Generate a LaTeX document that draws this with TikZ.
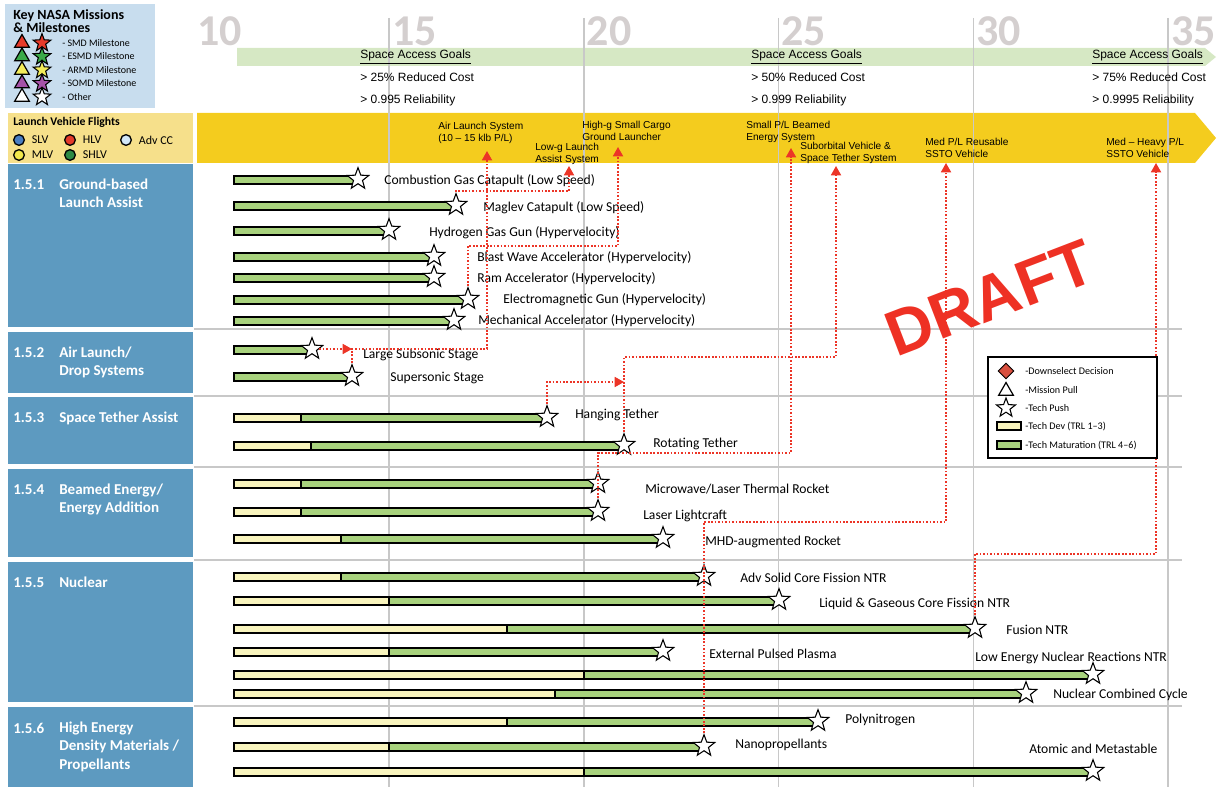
\documentclass[tikz,border=0pt]{standalone}
\usepackage{fontspec}
\setmainfont{Carlito}
\newfontfamily\arialfont{Liberation Sans}
\newfontfamily\stampfont[Kerning=Off]{Liberation Sans}
\usepackage{tikz}
\usetikzlibrary{arrows.meta,shapes.geometric,positioning}

\definecolor{keyblue}{HTML}{C8DDEE}
\definecolor{wbsblue}{HTML}{5D9AC0}
\definecolor{lvfgold}{HTML}{F6E08B}
\definecolor{bandyellow}{HTML}{F4CC1E}
\definecolor{goalgreen}{HTML}{D6E8C4}
\definecolor{devyellow}{HTML}{F8F4BD}
\definecolor{matgreen}{HTML}{A8D27D}
\definecolor{pullred}{HTML}{EC3527}
\definecolor{draftred}{HTML}{EE3124}
\definecolor{gridgray}{HTML}{C8C8C8}
\definecolor{yeargray}{HTML}{D4CFCF}
\definecolor{smdred}{HTML}{E83A2A}
\definecolor{esmdgreen}{HTML}{3AAA48}
\definecolor{armdyellow}{HTML}{F3EC5A}
\definecolor{somdpurple}{HTML}{A652A8}
\definecolor{slvblue}{HTML}{4A7EC2}
\definecolor{hlvred}{HTML}{E33A2B}
\definecolor{advccblue}{HTML}{D3E8F8}
\definecolor{mlvyellow}{HTML}{F2E74C}
\definecolor{shlvgreen}{HTML}{2E8A45}
\definecolor{downred}{HTML}{D9503F}

\begin{document}
\begin{tikzpicture}[x=0.75pt,y=-0.75pt,
    techpush/.style={star,star points=5,star point ratio=2.4,draw=black,fill=white,
      line width=0.8pt,minimum size=17pt,inner sep=0pt},
    missionpull/.style={regular polygon,regular polygon sides=3,draw=black,
      line width=0.9pt,minimum size=12.7pt,inner sep=0pt},
    pull/.style={draw=pullred,line width=1.3pt,dash pattern=on 1.3pt off 1.3pt,
      -{Triangle[length=7pt,width=7.5pt]}},
    devbar/.style={fill=devyellow,draw=black,line width=1pt},
    matbar/.style={fill=matgreen,draw=black,line width=1pt},
    rowlabel/.style={anchor=west,inner sep=0pt,font=\fontsize{10.2}{12}\selectfont},
    missionlbl/.style={anchor=north west,align=left,inner sep=0pt,
      font=\arialfont\fontsize{7.6}{8.6}\selectfont},
    goal/.style={anchor=west,inner sep=0pt,font=\arialfont\fontsize{9}{11}\selectfont},
    yearlbl/.style={anchor=west,inner sep=0pt,text=yeargray,
      font=\bfseries\fontsize{33}{33}\selectfont},
    wbsnum/.style={anchor=west,inner sep=0pt,text=white,
      font=\bfseries\fontsize{11.3}{13.9}\selectfont},
    wbsttl/.style={anchor=north west,align=left,inner sep=0pt,text=white,
      font=\bfseries\fontsize{11.3}{13.9}\selectfont},
    keytext/.style={anchor=west,inner sep=0pt,font=\fontsize{7.5}{9}\selectfont},
    lvftext/.style={anchor=west,inner sep=0pt,font=\fontsize{9}{11}\selectfont},
    vehicle/.style={circle,draw=black,line width=1pt,minimum size=8pt,inner sep=0pt},
    legendtext/.style={anchor=west,inner sep=0pt,font=\fontsize{7.6}{9}\selectfont},
    draftmark/.style={text=draftred,rotate=21,inner sep=0pt,
      font=\stampfont\bfseries\fontsize{48}{48}\selectfont}]

\useasboundingbox (0,0) rectangle (1224,787);

% Goal band and launch band
\fill[goalgreen] (237,48) -- (1205,48) -- (1216,57) -- (1205,66) -- (237,66) -- cycle;
\fill[bandyellow] (197,113) -- (1195,113) -- (1216,138) -- (1195,163) -- (197,163) -- cycle;

% Year grid
\foreach \i in {1,...,5}
  \draw[gridgray,line width=1.1pt] ({194.2+194.8*\i},18) -- ({194.2+194.8*\i},787);
\foreach \yr in {10,15,...,35}
  \node[yearlbl] (yr\yr) at ({197+(\yr-10)*38.96},31) {\yr};
\foreach \sy in {329,396,467,560,706}
  \draw[gridgray,line width=1.1pt] (194,\sy) -- (1182,\sy);

% Space access goals
\foreach \gx/\cost/\rel in {360/25/0.995, 751/50/0.999, 1092/75/0.9995} {
  \node[goal] (goal\cost) at (\gx,57) {\underline{Space Access Goals}};
  \node[goal] (cost\cost) at (\gx,77) {> \cost\% Reduced Cost};
  \node[goal] (rel\cost) at (\gx,100) {> \rel\ Reliability};
}

% Mission key
\fill[keyblue] (5,4) rectangle (155,108);
\node[anchor=north west,align=left,inner sep=0pt,font=\bfseries\fontsize{10.5}{10}\selectfont]
  (keyttl) at (13,9) {Key NASA Missions\\\& Milestones};
\foreach \c/\lbl [count=\k] in {smdred/SMD Milestone, esmdgreen/ESMD Milestone,
    armdyellow/ARMD Milestone, somdpurple/SOMD Milestone, white/Other} {
  \node[missionpull,fill=\c] (keytri\k) at (22,{29.5+13.5*\k}) {};
  \node[techpush,fill=\c,minimum size=14pt] (keystar\k) at (42,{29.5+13.5*\k}) {};
  \node[keytext] (keylbl\k) at (62,{29.5+13.5*\k}) {- \lbl};
}

% Launch vehicle flights
\fill[lvfgold] (8,113) rectangle (193,163);
\node[anchor=west,inner sep=0pt,font=\bfseries\fontsize{8.8}{10}\selectfont]
  (lvfttl) at (13,122) {Launch Vehicle Flights};
\foreach \nm/\c/\vx/\vy/\lbl in {slv/slvblue/19/140/SLV, hlv/hlvred/70/140/HLV,
    advcc/advccblue/126/140/Adv CC, mlv/mlvyellow/19/155/MLV, shlv/shlvgreen/70/155/SHLV} {
  \node[vehicle,fill=\c] (\nm) at (\vx,\vy) {};
  \node[lvftext,right=5pt of \nm] (\nm-txt) {\lbl};
}

% WBS element boxes
\foreach \nm/\ytop/\ybot/\title in {1/164/327/{Ground-based\\Launch Assist},
    2/332/393/{Air Launch/\\Drop Systems}, 3/397/464/{Space Tether Assist},
    4/469/557/{Beamed Energy/\\Energy Addition}, 5/562/702/{Nuclear},
    6/707/790/{High Energy\\Density Materials /\\Propellants}} {
  \fill[wbsblue] (8,\ytop) rectangle (193,\ybot);
  \node[wbsnum] (wbs\nm) at (13,\ytop+21) {1.5.\nm};
  \node[wbsttl] (wbsttl\nm) at (59,\ytop+14.5) {\title};
}

% Technology bars and tech push stars
\foreach \nm/\by/\sp/\sx/\lx/\ly/\lbl in {
    cgc/180/234/358/384/181/{Combustion Gas Catapult (Low Speed)},
    mag/206/234/456/483/208/{Maglev Catapult (Low Speed)},
    hgg/231/234/389/429/233/{Hydrogen Gas Gun (Hypervelocity)},
    bwa/257/234/434/477/258/{Blast Wave Accelerator (Hypervelocity)},
    ram/278/234/434/477/279/{Ram Accelerator (Hypervelocity)},
    emg/300/234/468/503/300/{Electromagnetic Gun (Hypervelocity)},
    mech/321/234/454/478/321/{Mechanical Accelerator (Hypervelocity)},
    lss/350/234/312/363/355/{Large Subsonic Stage},
    sss/377/234/352/390/378/{Supersonic Stage},
    ht/418/301/547/575/415/{Hanging Tether},
    rt/446/311/624/653/444/{Rotating Tether},
    mw/484/301/598/645/489/{Microwave/Laser Thermal Rocket},
    llc/512/301/598/643/516/{Laser Lightcraft},
    mhd/539/341/663/705/542/{MHD-augmented Rocket},
    asc/577/341/704/740/578/{Adv Solid Core Fission NTR},
    lgc/601/389/779/819/604/{Liquid \& Gaseous Core Fission NTR},
    fus/629/507/975/1006/630/{Fusion NTR},
    epp/652/389/663/709/654/{External Pulsed Plasma},
    lenr/675/584/1093/975/658/{Low Energy Nuclear Reactions NTR},
    ncc/694/555/1026/1053/695/{Nuclear Combined Cycle},
    pn/722/507/818/845/720/{Polynitrogen},
    np/747/389/704/735/745/{Nanopropellants},
    am/772/584/1093/1029/749/{Atomic and Metastable}} {
  \draw[devbar] (234,\by-4) rectangle (\sx-4,\by+4);
  \draw[matbar] (\sp,\by-4) rectangle (\sx-4,\by+4);
  \node[techpush] (\nm) at (\sx,\by-1) {};
  \node[rowlabel] (\nm-txt) at (\lx,\ly) {\lbl};
}

% Mission pull targets
\node[missionlbl] (als-txt) at (438,122) {Air Launch System\\(10 – 15 klb P/L)};
\node[missionlbl] (lga-txt) at (535,143) {Low-g Launch\\Assist System};
\node[missionlbl] (hg-txt) at (582,121) {High-g Small Cargo\\Ground Launcher};
\node[missionlbl] (sb-txt) at (746,121) {Small P/L Beamed\\Energy System};
\node[missionlbl] (st-txt) at (800,142) {Suborbital Vehicle \&\\Space Tether System};
\node[missionlbl] (med-txt) at (925,138) {Med P/L Reusable\\SSTO Vehicle};
\node[missionlbl] (mh-txt) at (1106,138) {Med – Heavy P/L\\SSTO Vehicle};
\coordinate (als) at (487,151);
\coordinate (lga) at (569,166);
\coordinate (hg) at (618,147);
\coordinate (sb) at (791,148);
\coordinate (st) at (836,166);
\coordinate (med) at (946,163);
\coordinate (mh) at (1156,163);
\coordinate (tj) at (624,382);

% Pull links
\draw[pull] (lss) -- (lss -| sss);
\draw[pull] (sss) -- (sss |- lss) -| (als);
\draw[pull] (mag) -- ++(0,-14) -| (lga);
\draw[pull] (emg) -- ++(0,-53) -| (hg);
\draw[pull] (llc) -- ++(0,-58) -| (sb);
\draw[pull] (ht) |- (tj);
\draw[pull] (rt) -- ++(0,-88) -| (st);
\draw[pull] (np) -- ++(0,-224) -| (med);
\draw[pull] (fus) -- ++(0,-74) -| (mh);

% Legend
\draw[fill=white,line width=1.1pt] (988,357) rectangle (1157,458);
\node[diamond,draw=black,fill=downred,line width=0.7pt,minimum size=12pt,inner sep=0pt]
  (lg-dec) at (1006,371) {};
\node[missionpull,fill=white] (lg-pull) at (1006,391) {};
\node[techpush,minimum size=15pt] (lg-push) at (1006,408) {};
\draw[devbar] (997,422) rectangle (1021,430);
\draw[matbar] (997,441) rectangle (1021,449);
\foreach \ly/\lbl [count=\k] in {371/{-Downselect Decision}, 390/{-Mission Pull},
    408/{-Tech Push}, 426/{-Tech Dev (TRL 1–3)}, 445/{-Tech Maturation (TRL 4–6)}}
  \node[legendtext] (lg-txt\k) at (1025,\ly) {\lbl};

% Draft stamp
\node[draftmark] (draft) at (990,298) {DRAFT};
\end{tikzpicture}
\end{document}
